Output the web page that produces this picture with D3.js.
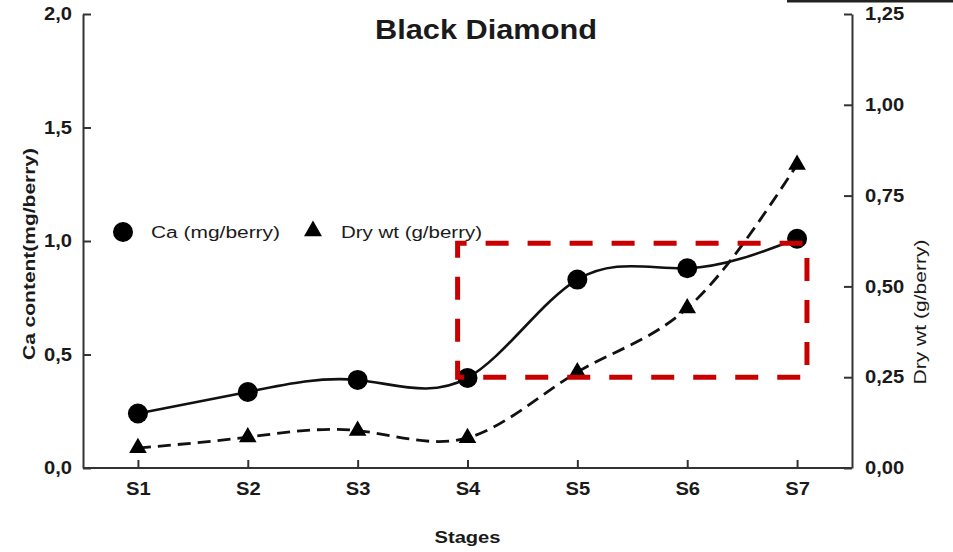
<!DOCTYPE html>
<html>
<head>
<meta charset="utf-8">
<script src="https://cdn.jsdelivr.net/npm/d3@7"></script>
<style>
  body { margin: 0; background: #fff; }
  svg { display: block; font-family: "Liberation Sans", Arial, sans-serif; }
</style>
</head>
<body>
<svg id="chart" width="953" height="552"></svg>
<script>
// data
const stages = ["S1", "S2", "S3", "S4", "S5", "S6", "S7"];
const caValues = [0.24, 0.335, 0.388, 0.397, 0.83, 0.88, 1.01];      // mg/berry, left axis
const dryValues = [0.055, 0.085, 0.103, 0.083, 0.264, 0.44, 0.835]; // g/berry, right axis
const leftTicks = [0, 0.5, 1.0, 1.5, 2.0];
const rightTicks = [0, 0.25, 0.5, 0.75, 1.0, 1.25];
// highlighted region: stages S4..S7, Ca 0.40..0.99
const boxStages = ["S4", "S7"];
const boxCa = [0.40, 0.99];

const margin = { top: 14, right: 101, bottom: 84, left: 83 };
const width = 953 - margin.left - margin.right;
const height = 552 - margin.top - margin.bottom;

const svg = d3.select("#chart");
const g = svg.append("g")
    .attr("transform", "translate(" + margin.left + "," + margin.top + ")");

const comma = d => d3.format(".1f")(d).replace(".", ",");
const comma2 = d => d3.format(".2f")(d).replace(".", ",");

// stretch text a bit wider, the picture is stretched sideways
function stretch(sel, k) {
    sel.each(function () {
        const w = this.getComputedTextLength();
        d3.select(this).attr("textLength", w * k).attr("lengthAdjust", "spacingAndGlyphs");
    });
}

const x = d3.scalePoint().domain(stages).range([0, width]).padding(0.5);
const yL = d3.scaleLinear().domain([0, 2]).range([height, 0]);
const yR = d3.scaleLinear().domain([0, 1.25]).range([height, 0]);

// axes
const axisStyle = (a) => {
    a.selectAll("path, line").attr("stroke", "#333").attr("stroke-width", 2);
    a.selectAll("text").attr("fill", "#1a1a1a").attr("font-size", 18).attr("font-weight", "bold");
};

const gx = g.append("g")
    .attr("transform", "translate(0," + height + ")")
    .call(d3.axisBottom(x).tickSizeInner(-8).tickSizeOuter(0).tickPadding(14));
gx.select(".domain").attr("d", "M0,0H" + width);
axisStyle(gx);

const gl = g.append("g")
    .call(d3.axisLeft(yL).tickValues(leftTicks).tickFormat(comma)
        .tickSizeInner(-8).tickSizeOuter(0).tickPadding(11));
axisStyle(gl);

const gr = g.append("g")
    .attr("transform", "translate(" + width + ",0)")
    .call(d3.axisRight(yR).tickValues(rightTicks).tickFormat(comma2)
        .tickSizeInner(-8).tickSizeOuter(0).tickPadding(13));
axisStyle(gr);

stretch(g.selectAll(".tick text"), 1.12);

// lines
const caLine = d3.line()
    .x((d, i) => x(stages[i]))
    .y(d => yL(d))
    .curve(d3.curveNatural);
const dryLine = d3.line()
    .x((d, i) => x(stages[i]))
    .y(d => yR(d))
    .curve(d3.curveNatural);

g.append("path")
    .datum(dryValues)
    .attr("d", dryLine)
    .attr("fill", "none")
    .attr("stroke", "#111")
    .attr("stroke-width", 2.8)
    .attr("stroke-dasharray", "13,7");

g.append("path")
    .datum(caValues)
    .attr("d", caLine)
    .attr("fill", "none")
    .attr("stroke", "#111")
    .attr("stroke-width", 2.6);

// points
g.selectAll(".ca-pt")
    .data(caValues)
    .enter()
    .append("circle")
    .attr("cx", (d, i) => x(stages[i]))
    .attr("cy", d => yL(d))
    .attr("r", 10)
    .attr("fill", "#000");

const tri = d3.symbol().type(d3.symbolTriangle).size(135);
g.selectAll(".dry-pt")
    .data(dryValues)
    .enter()
    .append("path")
    .attr("d", tri)
    .attr("transform", (d, i) => "translate(" + x(stages[i]) + "," + yR(d) + ")")
    .attr("fill", "#000");

// red highlight box
const pad = x.step() * 0.09;
const bx0 = x(boxStages[0]) - pad;
const bx1 = x(boxStages[1]) + pad;
g.append("rect")
    .attr("x", bx0)
    .attr("y", yL(boxCa[1]))
    .attr("width", bx1 - bx0)
    .attr("height", yL(boxCa[0]) - yL(boxCa[1]))
    .attr("fill", "none")
    .attr("stroke", "#c80000")
    .attr("stroke-width", 5)
    .attr("stroke-dasharray", "23,19")
    .attr("stroke-dashoffset", 14);

// legend
const legend = g.append("g").attr("transform", "translate(40,218)");
legend.append("circle").attr("cx", 0).attr("cy", 0).attr("r", 10).attr("fill", "#000");
legend.append("text").attr("x", 28).attr("y", 6)
    .attr("font-size", 16).attr("fill", "#1a1a1a").text("Ca (mg/berry)")
    .attr("textLength", 129).attr("lengthAdjust", "spacingAndGlyphs");
legend.append("path").attr("d", d3.symbol().type(d3.symbolTriangle).size(140))
    .attr("transform", "translate(190,-1)").attr("fill", "#000");
legend.append("text").attr("x", 218).attr("y", 6)
    .attr("font-size", 16).attr("fill", "#1a1a1a").text("Dry wt (g/berry)")
    .attr("textLength", 141).attr("lengthAdjust", "spacingAndGlyphs");

// title and axis labels
svg.append("text")
    .attr("x", 486).attr("y", 39)
    .attr("text-anchor", "middle")
    .attr("font-size", 27).attr("font-weight", "bold").attr("fill", "#1a1a1a")
    .text("Black Diamond")
    .attr("textLength", 222).attr("lengthAdjust", "spacingAndGlyphs");

svg.append("text")
    .attr("transform", "translate(35,254) rotate(-90)")
    .attr("text-anchor", "middle")
    .attr("font-size", 16).attr("font-weight", "bold").attr("fill", "#1a1a1a")
    .text("Ca content(mg/berry)")
    .attr("textLength", 212).attr("lengthAdjust", "spacingAndGlyphs");

svg.append("text")
    .attr("transform", "translate(926,312) rotate(-90)")
    .attr("text-anchor", "middle")
    .attr("font-size", 16).attr("fill", "#1a1a1a")
    .text("Dry wt (g/berry)")
    .attr("textLength", 145).attr("lengthAdjust", "spacingAndGlyphs");

svg.append("text")
    .attr("x", margin.left + width / 2).attr("y", 543)
    .attr("text-anchor", "middle")
    .attr("font-size", 16).attr("font-weight", "bold").attr("fill", "#1a1a1a")
    .text("Stages")
    .attr("textLength", 66).attr("lengthAdjust", "spacingAndGlyphs");

// dark strip at the top right corner of the picture
svg.append("line")
    .attr("x1", 787).attr("x2", 953).attr("y1", 1).attr("y2", 1)
    .attr("stroke", "#222").attr("stroke-width", 3);
</script>
</body>
</html>
